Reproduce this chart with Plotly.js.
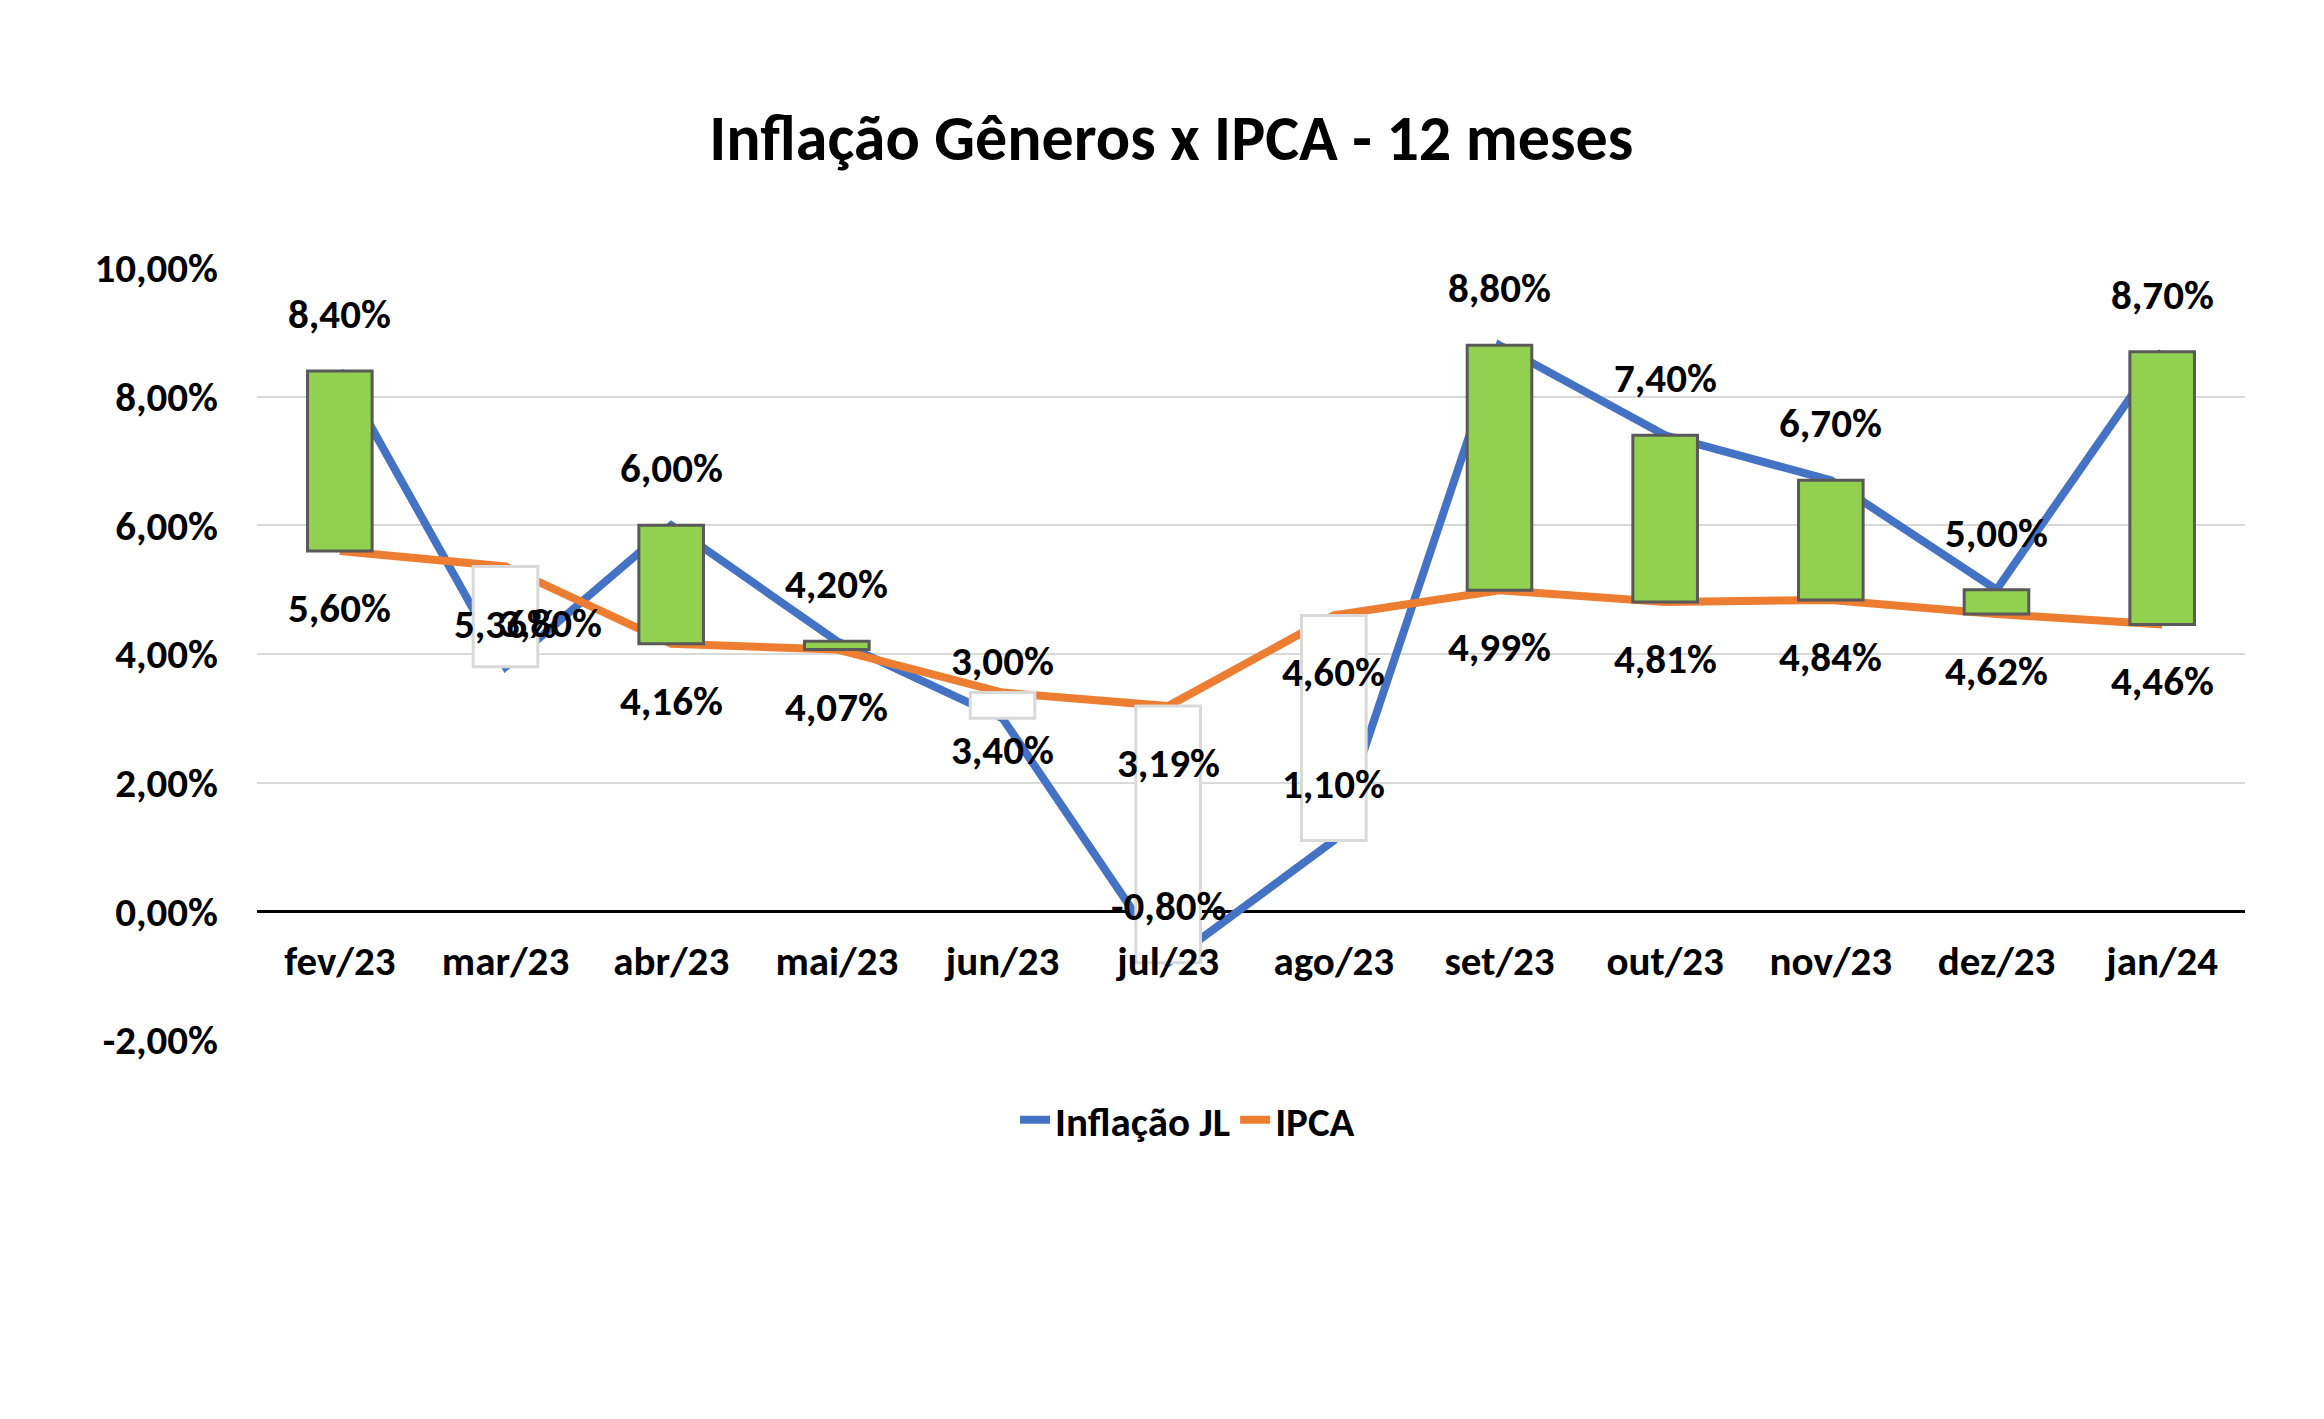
<!DOCTYPE html>
<html>
<head>
<meta charset="utf-8">
<script src="https://cdn.plot.ly/plotly-3.0.1.min.js"></script>
<style>
  html, body { margin: 0; padding: 0; background: #ffffff; }
  #chart { width: 2324px; height: 1419px; }
</style>
</head>
<body>
<div id="chart"></div>
<script>
var meses = ['fev/23', 'mar/23', 'abr/23', 'mai/23', 'jun/23', 'jul/23',
             'ago/23', 'set/23', 'out/23', 'nov/23', 'dez/23', 'jan/24'];
var inflacao_jl = [8.40, 3.80, 6.00, 4.20, 3.00, -0.80, 1.10, 8.80, 7.40, 6.70, 5.00, 8.70];
var ipca = [5.60, 5.36, 4.16, 4.07, 3.40, 3.19, 4.60, 4.99, 4.81, 4.84, 4.62, 4.46];
var y_ticks = [-2, 0, 2, 4, 6, 8, 10];

var font_family = "Carlito, 'Liberation Sans Narrow', 'Noto Sans', sans-serif";

function pct(v){
    return v.toFixed(2).replace('.', ',') + '%';
}

function on_start(){
    var chart = document.getElementById('chart');

    // up-down bars: from IPCA to the JL value
    var diff = [];
    var fill = [];
    var border = [];
    for (var i = 0; i < meses.length; i++){
        diff.push(inflacao_jl[i] - ipca[i]);
        if (inflacao_jl[i] >= ipca[i]){
            fill.push('#92D050');
            border.push('#595959');
        } else {
            fill.push('#FFFFFF');
            border.push('#D9D9D9');
        }
    }

    var data = [{
        x: meses,
        y: inflacao_jl,
        name: 'Inflação JL',
        mode: 'lines',
        line: {color: '#4472C4', width: 8}
      }, {
        x: meses,
        y: ipca,
        name: 'IPCA',
        mode: 'lines',
        line: {color: '#ED7D31', width: 8}
      }, {
        type: 'bar',
        x: meses,
        y: diff,
        base: ipca,
        yaxis: 'y2',
        width: 0.39,
        showlegend: false,
        marker: {color: fill, line: {color: border, width: 3}}
      }];

    var lbl_font = {family: font_family, size: 41, color: '#000000', weight: 'bold'};
    var notes = [];
    for (var j = 0; j < meses.length; j++){
        notes.push({x: meses[j], y: ipca[j], text: pct(ipca[j]),
                    showarrow: false, yshift: -57, font: lbl_font});
        // mar/23: Excel pushed the JL label onto the IPCA one
        var jl_note = {x: meses[j], y: inflacao_jl[j], text: pct(inflacao_jl[j]),
                       showarrow: false, yshift: 57, font: lbl_font};
        if (j === 1){
            jl_note.yshift = 44;
            jl_note.xshift = 45;
        }
        notes.push(jl_note);
    }

    var y_text = [];
    for (var k = 0; k < y_ticks.length; k++){
        y_text.push(pct(y_ticks[k]));
    }

    var layout = {
        width: 2324,
        height: 1419,
        margin: {l: 257, r: 79, t: 268, b: 379},
        paper_bgcolor: '#FFFFFF',
        plot_bgcolor: '#FFFFFF',
        font: {family: font_family, size: 41, color: '#000000', weight: 'bold'},
        title: {
            text: 'Inflação Gêneros x IPCA - 12 meses',
            font: {family: font_family, size: 64, color: '#000000', weight: 'bold'},
            x: 0.504, xanchor: 'center',
            y: 0.9027, yanchor: 'middle'
        },
        xaxis: {
            type: 'category',
            anchor: 'free',
            position: 1 / 6,
            showline: false,
            showgrid: false,
            ticks: '',
            ticklabelstandoff: 22,
            tickfont: lbl_font
        },
        yaxis: {
            range: [-2, 10],
            tickvals: y_ticks,
            ticktext: y_text,
            showgrid: true,
            gridcolor: '#D9D9D9',
            gridwidth: 2,
            zeroline: true,
            zerolinecolor: '#000000',
            zerolinewidth: 3,
            showline: false,
            ticks: '',
            ticklabelstandoff: 38,
            tickfont: lbl_font
        },
        yaxis2: {
            range: [-2, 10],
            overlaying: 'y',
            visible: false
        },
        showlegend: true,
        legend: {
            orientation: 'h',
            xref: 'container',
            yref: 'container',
            x: 0.511, xanchor: 'center',
            y: 0.2107, yanchor: 'middle',
            font: lbl_font
        },
        annotations: notes
    };

    Plotly.newPlot(chart, data, layout, {staticPlot: true});
}

on_start();
</script>
</body>
</html>
